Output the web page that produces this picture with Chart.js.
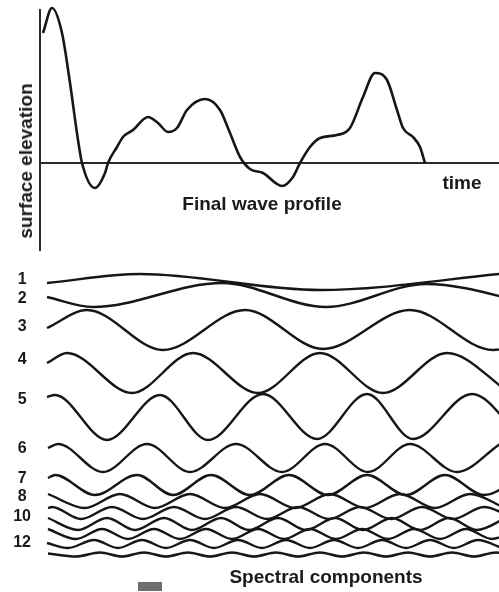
<!DOCTYPE html>
<html>
<head>
<meta charset="utf-8">
<script src="https://cdn.jsdelivr.net/npm/chart.js@4.4.1/dist/chart.umd.min.js"></script>
<style>
  body { margin: 0; background: #fff; }
  #wrap { position: relative; width: 499px; height: 592px; overflow: hidden; font-family: "Liberation Sans", Arial, sans-serif; color: #1a1a1a; }
  #wrap canvas { position: absolute; left: 0; }
  .txt { position: absolute; font-weight: bold; white-space: nowrap; transform: translate(-50%, -50%); }
  .stamp { position: absolute; left: 138px; top: 582px; width: 24px; height: 9px; background: #6e6e6e; }
</style>
</head>
<body>
<div id="wrap">
  <canvas id="profile" width="499" height="260" style="top:0"></canvas>
  <canvas id="components" width="499" height="348" style="top:236px"></canvas>
  <div class="txt" style="left:26px;top:161px;font-size:19px;transform:translate(-50%,-50%) rotate(-90deg)">surface elevation</div>
  <div class="txt" style="left:462px;top:183px;font-size:19px">time</div>
  <div class="txt" style="left:262px;top:204px;font-size:19px">Final wave profile</div>
  <div class="txt" style="left:326px;top:577px;font-size:19px">Spectral components</div>
  <div class="stamp"></div>
</div>
<script>
// final wave profile: time vs surface elevation
var profileTime = [0.3, 1.2, 2.2, 3.0, 3.8, 4.2, 5.5, 6.5, 6.8, 7.7, 8.3, 9.3, 10.8, 11.8, 12.8, 13.7, 14.7, 16.5,
  18.0, 19.0, 20.0, 21.0, 22.3, 24.2, 25.3, 26.0, 27.0, 28.0, 29.7, 31.0, 32.3, 33.5, 34.7, 35.7, 36.3, 37.3, 38.0, 38.5];
var profileElevation = [13.0, 15.5, 13.0, 8.0, 2.3, 0, -2.5, -1.0, 0, 1.6, 2.6, 3.3, 4.6, 4.0, 3.1, 3.5, 5.3, 6.4,
  5.3, 3.0, 0.6, -0.6, -1.0, -2.3, -1.4, 0, 1.6, 2.5, 2.8, 3.5, 6.6, 9.0, 8.3, 5.3, 3.5, 2.6, 1.6, 0];

// spectral components: [time, elevation] at the start, crests and troughs
var wave1 = [[0.7, -0.1], [10.0, 0.8], [28.0, -0.8], [47.0, 0.9]];
var wave2 = [[0.7, -0.2], [5.3, -1.2], [18.2, 1.2], [28.6, -1.2], [38.6, 1.1], [50.5, -1.2]];
var wave3 = [[0.7, 0.2], [4.7, 2.0], [12.3, -2.0], [20.5, 2.0], [28.3, -1.9], [37.0, 2.0], [45.3, -2.0], [53.5, 2.0]];
var wave4 = [[0.7, 1.0], [2.7, 2.0], [9.2, -2.0], [15.3, 2.0], [21.8, -2.0], [28.0, 2.0], [34.3, -2.0], [40.7, 2.0], [47.0, -2.0]];
var wave5 = [[0.7, 2.0], [1.5, 2.2], [6.7, -2.3], [12.0, 2.2], [16.8, -2.3], [22.3, 2.3], [27.7, -2.2], [32.7, 2.3],
  [37.3, -2.2], [43.2, 2.3], [48.2, -2.2]];
var wave6 = [[0.8, 1.0], [1.8, 1.4], [6.3, -1.4], [10.7, 1.4], [15.0, -1.4], [19.6, 1.4], [24.2, -1.4], [28.5, 1.4],
  [32.8, -1.4], [37.0, 1.4], [41.7, -1.4], [46.0, 1.4]];
var wave7 = [[0.8, 0.7], [1.5, 1.0], [5.5, -1.0], [9.7, 1.0], [13.3, -1.0], [17.1, 1.0], [21.0, -1.0], [24.9, 1.0],
  [28.8, -1.0], [32.7, 1.0], [36.6, -1.0], [40.5, 1.0], [44.4, -1.0], [48.3, 1.0]];
var wave8 = [[0.8, 0.7], [4.5, -0.7], [8.0, 0.7], [11.5, -0.7], [15.0, 0.7], [18.5, -0.7], [22.0, 0.7], [25.5, -0.7],
  [29.0, 0.7], [32.5, -0.7], [36.0, 0.7], [39.5, -0.7], [43.0, 0.7], [46.5, -0.7]];
var wave9 = [[0.8, 0.5], [1.2, 0.6], [4.1, -0.6], [7.2, 0.6], [10.3, -0.6], [13.4, 0.6], [16.5, -0.6], [19.6, 0.6],
  [22.7, -0.6], [25.8, 0.6], [28.9, -0.6], [32.0, 0.6], [35.1, -0.6], [38.2, 0.6], [41.3, -0.6], [44.4, 0.6], [47.5, -0.6]];
var wave10 = [[0.8, 0.6], [3.8, -0.6], [6.7, 0.6], [9.5, -0.6], [12.4, 0.6], [15.2, -0.6], [18.1, 0.6], [20.9, -0.6],
  [23.8, 0.6], [26.6, -0.6], [29.5, 0.6], [32.3, -0.6], [35.2, 0.6], [38.0, -0.6], [40.9, 0.6], [43.7, -0.6], [46.6, 0.6]];
var wave11 = [[0.8, 0.5], [3.6, -0.5], [6.2, 0.5], [8.8, -0.5], [11.4, 0.5], [14.0, -0.5], [16.6, 0.5], [19.2, -0.5],
  [21.8, 0.5], [24.4, -0.5], [27.0, 0.5], [29.6, -0.5], [32.2, 0.5], [34.8, -0.5], [37.4, 0.5], [40.0, -0.5],
  [42.6, 0.5], [45.2, -0.5], [47.8, 0.5]];
var wave12 = [[0.7, 0.1], [2.8, -0.4], [5.4, 0.4], [7.8, -0.4], [10.2, 0.4], [12.6, -0.4], [15.0, 0.4], [17.4, -0.4],
  [19.8, 0.4], [22.2, -0.4], [24.6, 0.4], [27.0, -0.4], [29.4, 0.4], [31.8, -0.4], [34.2, 0.4], [36.6, -0.4],
  [39.0, 0.4], [41.4, -0.4], [43.8, 0.4], [46.2, -0.4]];
var wave13 = [[0.8, 0.1], [3.6, -0.2], [6.0, 0.2], [8.2, -0.2], [10.4, 0.2], [12.6, -0.2], [14.8, 0.2], [17.0, -0.2],
  [19.2, 0.2], [21.4, -0.2], [23.6, 0.2], [25.8, -0.2], [28.0, 0.2], [30.2, -0.2], [32.4, 0.2], [34.6, -0.2],
  [36.8, 0.2], [39.0, -0.2], [41.2, 0.2], [43.4, -0.2], [45.6, 0.2], [47.8, -0.2]];

var waves = [wave1, wave2, wave3, wave4, wave5, wave6, wave7, wave8, wave9, wave10, wave11, wave12, wave13];
var waveLabels = ['1', '2', '3', '4', '5', '6', '7', '8', '', '10', '', '12', ''];

// vertical stacking of the components and where their numbers sit (layout, elevation units)
var waveLevel = [-2.0, -3.3, -6.8, -11.1, -15.5, -19.6, -22.3, -23.9, -25.1, -26.2, -27.2, -28.2, -29.25];
var labelLevel = [-1.8, -3.7, -6.5, -9.8, -13.8, -18.7, -21.7, -23.5, null, -25.5, null, -28.1, null];

var ink = '#161616';

var profileCtx = document.getElementById('profile').getContext('2d');
new Chart(profileCtx, {
  type: 'line',
  data: {
    datasets: [{
      data: profileTime.map(function(t, i) { return {x: t, y: profileElevation[i]}; }),
      borderColor: ink,
      borderWidth: 2.6,
      pointRadius: 0,
      cubicInterpolationMode: 'monotone',
      clip: false
    }]
  },
  options: {
    responsive: false,
    animation: false,
    layout: { padding: { top: 10, bottom: 10, left: 0, right: 0 } },
    plugins: { legend: { display: false }, tooltip: { enabled: false } },
    scales: {
      x: {
        type: 'linear', min: 0, max: 45.9,
        position: { y: 0 },
        grid: { display: false, drawTicks: false },
        ticks: { display: false },
        border: { display: true, color: '#2a2a2a', width: 2 },
        afterFit: function(s) { s.height = 0; }
      },
      y: {
        min: -8.7, max: 15.3,
        grid: { display: false, drawTicks: false },
        ticks: { display: false },
        border: { display: true, color: '#2a2a2a', width: 2 },
        afterFit: function(s) { s.width = 40; }
      }
    }
  }
});

var labelTicks = [];
waveLabels.forEach(function(lbl, i) {
  if (lbl) labelTicks.push({ value: labelLevel[i], label: lbl });
});

var compCtx = document.getElementById('components').getContext('2d');
new Chart(compCtx, {
  type: 'line',
  data: {
    datasets: waves.map(function(w, i) {
      return {
        data: w.map(function(p) { return {x: p[0], y: p[1] + waveLevel[i]}; }),
        borderColor: ink,
        borderWidth: 2.4,
        pointRadius: 0,
        cubicInterpolationMode: 'monotone',
        clip: false
      };
    })
  },
  options: {
    responsive: false,
    animation: false,
    layout: { padding: { top: 24, bottom: 24, left: 0, right: 0 } },
    plugins: { legend: { display: false }, tooltip: { enabled: false } },
    scales: {
      x: { type: 'linear', min: 0, max: 45.9, display: false },
      y: {
        min: -29.8, max: 0.2,
        grid: { display: false, drawTicks: false },
        border: { display: false },
        afterBuildTicks: function(s) {
          s.ticks = labelTicks.map(function(t) { return { value: t.value }; });
        },
        afterFit: function(s) { s.width = 40; },
        ticks: {
          autoSkip: false,
          padding: 9,
          crossAlign: 'center',
          color: '#1a1a1a',
          font: { family: '"Liberation Sans", Arial, sans-serif', size: 16, weight: 'bold' },
          callback: function(value, index) { return labelTicks[index].label; }
        }
      }
    }
  }
});
</script>
</body>
</html>
